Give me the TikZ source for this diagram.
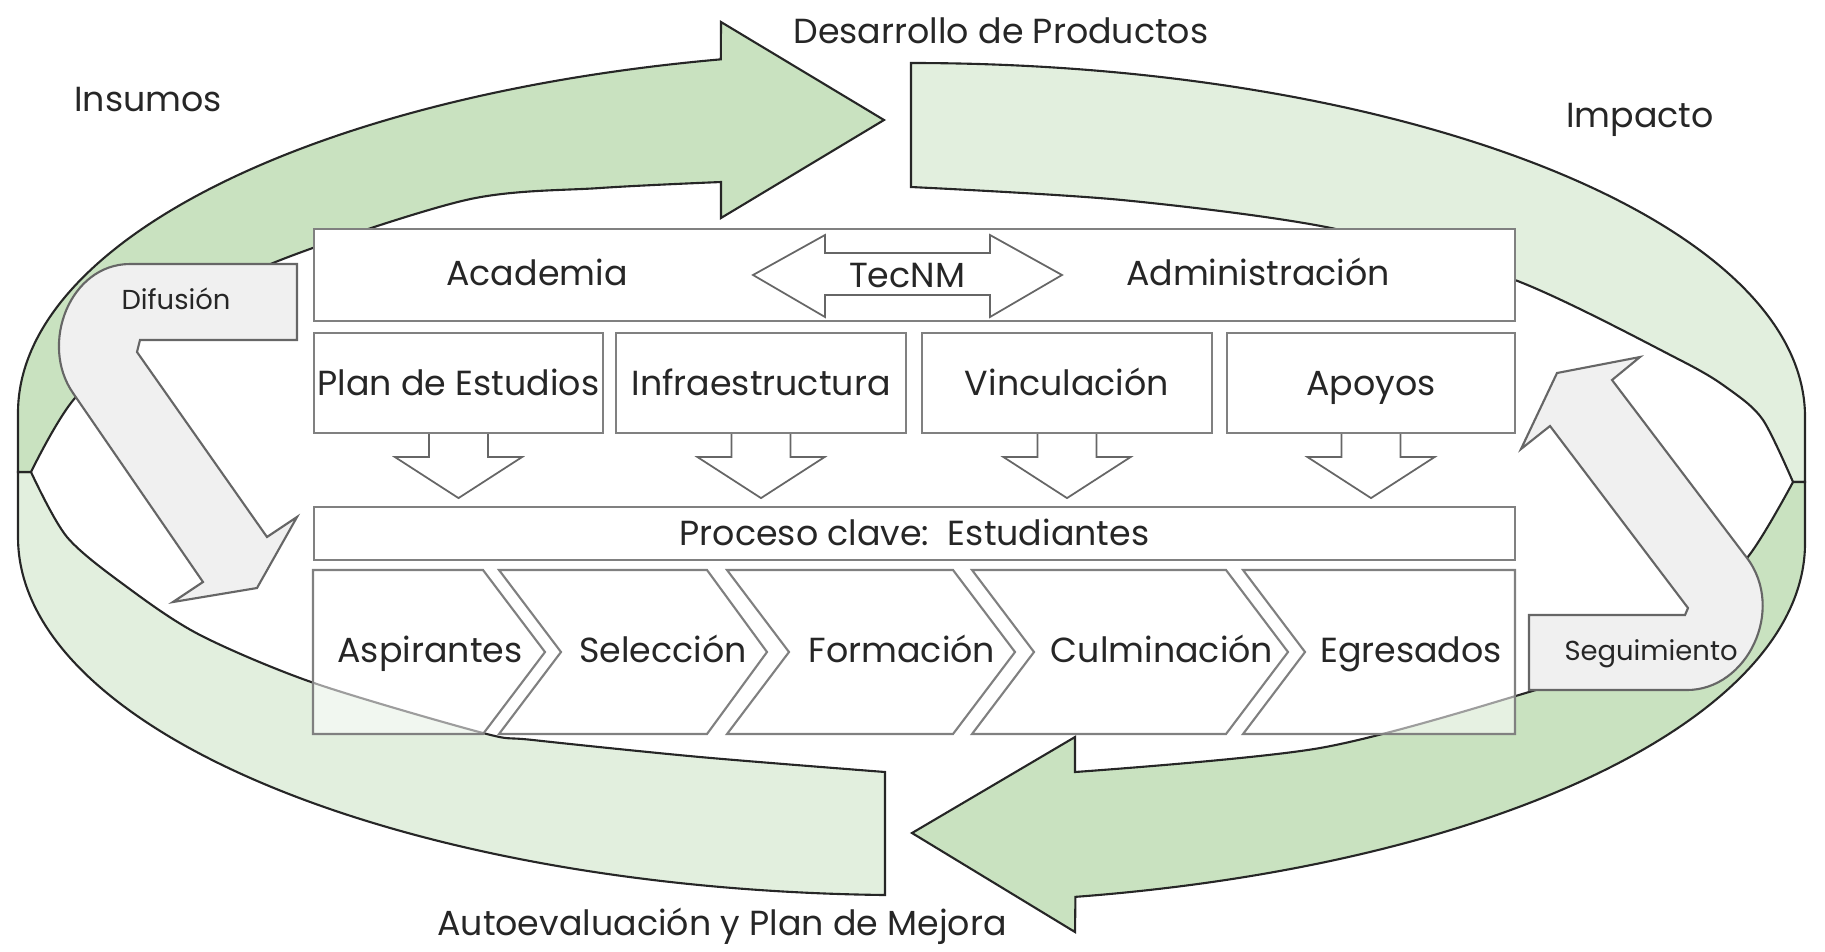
\documentclass[tikz,border=0pt]{standalone}
\usepackage{fontspec}
\setmainfont{Poppins}
\definecolor{darkband}{HTML}{C9E2C0}
\definecolor{lightband}{HTML}{E2EFDE}
\definecolor{bentgray}{HTML}{F0F0F0}
\definecolor{boxgray}{HTML}{808080}
\begin{document}
\begin{tikzpicture}[x=0.01cm, y=-0.01cm,
  box/.style={draw=boxgray, fill=white, line width=0.6pt, inner sep=0pt},
  chev/.style={draw=boxgray, fill=white, fill opacity=0.55, line width=0.6pt},
  darkarrow/.style={fill=darkband, draw=black!85, line width=0.6pt},
  lightarrow/.style={fill=lightband, draw=black!85, line width=0.6pt},
  bent/.style={fill=bentgray, draw=black!60, line width=0.6pt},
  hollow/.style={draw=black!60, fill=white, line width=0.5pt},
  txt/.style={font=\fontsize{9.9}{12}\selectfont, text=black!85, text height=0.8em, text depth=0.1em},
  smalltxt/.style={font=\fontsize{7.8}{10}\selectfont, text=black!85, text height=0.72em, text depth=0.22em}]
\useasboundingbox (0,0) rectangle (1825,951);

\draw[lightarrow] (885,895) arc[start angle=91.67, end angle=180, x radius=893, y radius=358] -- (18,472)
  -- plot[smooth] coordinates {(31,472) (67,537) (127,587) (200,635) (314,683) (483,733) (533,740) (700,757) (885,772)} -- cycle;
\draw[darkarrow] (18,472) -- (18,413) arc[start angle=180, end angle=257.7, x radius=893, y radius=362]
  -- (721,22) -- (884,120) -- (721,218)
  -- plot[smooth] coordinates {(721,182) (600,188) (466,200) (273,263) (160,325) (75,398) (31,472)} -- cycle;
\draw[lightarrow] (911,63) arc[start angle=270, end angle=360, x radius=894, y radius=354] -- (1805,482)
  -- plot[smooth] coordinates {(1793,482) (1763,420) (1730,390) (1680,360) (1515,280) (1331,228) (1122,200) (911,187)} -- cycle;
\draw[darkarrow] (1805,482) -- (1805,543) arc[start angle=0, end angle=79.4, x radius=894, y radius=360]
  -- (1075,932) -- (912,833) -- (1075,737)
  -- plot[smooth] coordinates {(1075,772) (1320,748) (1529,692) (1600,665) (1680,620) (1747,558) (1793,482)} -- cycle;

\draw[bent] (297,264) -- (130,264) .. controls (70,264) and (39,344) .. (73,393) -- (203,582) -- (173,602)
  -- (257,588) -- (297,517) -- (267,537) -- (137,352) -- (140,340) -- (297,340) -- cycle;
\node[smalltxt] (difusion) at (176,301) {Difusión};
\draw[bent] (1529,615) -- (1685,615) -- (1688,608) -- (1550,426) -- (1521,449) -- (1557,373) -- (1640,357)
  -- (1612,380) -- (1747,558) .. controls (1786,610) and (1747,690) .. (1687,690) -- (1529,690) -- cycle;
\node[smalltxt] (seguimiento) at (1651,652) {Seguimiento};

\node[box, minimum width=12.01cm, minimum height=0.92cm] (topbox) at (914.5,275) {};
\draw[hollow] (753,275) -- (825,235) -- (825,253) -- (990,253) -- (990,235) -- (1062,275)
  -- (990,317) -- (990,295) -- (825,295) -- (825,317) -- cycle;
\node[txt] (academia) at (537,273) {Academia};
\node[txt] (tecnm) at (907,275) {TecNM};
\node[txt] (admin) at (1258,273) {Administración};

\node[box, txt, minimum width=2.89cm, minimum height=1cm] (plan) at (458.5,383) {Plan de Estudios};
\node[box, txt, minimum width=2.9cm, minimum height=1cm] (infra) at (761,383) {Infraestructura};
\node[box, txt, minimum width=2.9cm, minimum height=1cm] (vinc) at (1067,383) {Vinculación};
\node[box, txt, minimum width=2.88cm, minimum height=1cm] (apoyos) at (1371,383) {Apoyos};
\foreach \n in {plan,infra,vinc,apoyos}
  \draw[hollow] (\n.south) ++(-29.5,0) -- ++(0,23) -- ++(-34,0) -- ++(63.5,41) -- ++(63.5,-41) -- ++(-34,0) -- ++(0,-23);

\node[box, txt, minimum width=12.01cm, minimum height=0.53cm] (proceso) at (914.5,533.5) {Proceso clave:\ \ Estudiantes};

\draw[chev] (313,570) -- (483,570) -- (545,652) -- (483,734) -- (313,734) -- cycle;
\draw[chev] (499,570) -- (707,570) -- (767,652) -- (707,734) -- (499,734) -- (561,652) -- cycle;
\draw[chev] (727,570) -- (953,570) -- (1015,652) -- (953,734) -- (727,734) -- (789,652) -- cycle;
\draw[chev] (972,570) -- (1226,570) -- (1288,652) -- (1226,734) -- (972,734) -- (1034,652) -- cycle;
\draw[chev] (1243,570) -- (1515,570) -- (1515,734) -- (1243,734) -- (1305,652) -- cycle;
\node[txt] (asp) at (430,650) {Aspirantes};
\node[txt] (sel) at (663,650) {Selección};
\node[txt] (form) at (902,650) {Formación};
\node[txt] (culm) at (1162,650) {Culminación};
\node[txt] (egr) at (1411,650) {Egresados};

\node[txt] (desarrollo) at (1001,31) {Desarrollo de Productos};
\node[txt] (insumos) at (148,99) {Insumos};
\node[txt] (impacto) at (1640,115) {Impacto};
\node[txt] (autoeval) at (722,923) {Autoevaluación y Plan de Mejora};
\end{tikzpicture}
\end{document}
